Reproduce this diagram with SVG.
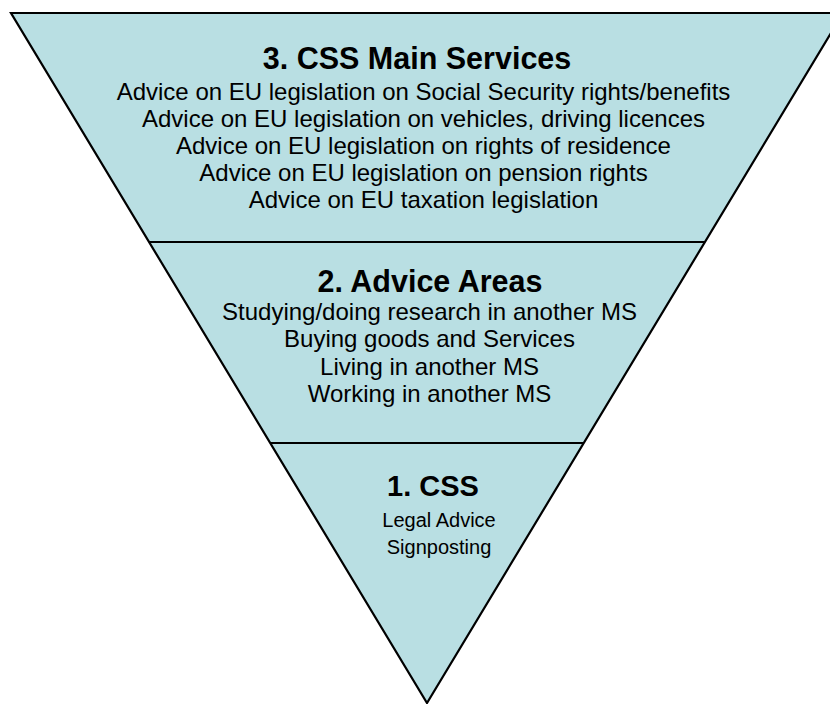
<svg xmlns="http://www.w3.org/2000/svg" width="830" height="704" viewBox="0 0 830 704">
<style>
.shape{fill:#b9dfe3;stroke:#000;stroke-width:2.2}
.div{stroke:#000;stroke-width:2.2;fill:none}
text{font-family:"Liberation Sans",Arial,sans-serif;fill:#000;text-anchor:middle}
.t{font-weight:bold;font-size:30.5px}
.b{font-size:24px}
.t1{font-weight:bold;font-size:29px}
.b1{font-size:20px}
</style>
<rect width="830" height="704" fill="#fff"/>
<g id="pyramid">
<polygon class="shape" points="11,13 843,13 427,703"/>
</g>
<g id="connectors">
<line class="div" x1="149" y1="242" x2="705" y2="242"/>
<line class="div" x1="270" y1="443" x2="584" y2="443"/>
</g>
<g id="level3">
<text class="t" x="417" y="69">3. CSS Main Services</text>
<text class="b" x="423.5" y="99.5">Advice on EU legislation on Social Security rights/benefits</text>
<text class="b" x="423.5" y="126.5">Advice on EU legislation on vehicles, driving licences</text>
<text class="b" x="423.5" y="153.5">Advice on EU legislation on rights of residence</text>
<text class="b" x="423.5" y="180.5">Advice on EU legislation on pension rights</text>
<text class="b" x="423.5" y="207.5">Advice on EU taxation legislation</text>
</g>
<g id="level2">
<text class="t" x="430" y="292">2. Advice Areas</text>
<text class="b" x="429.5" y="320">Studying/doing research in another MS</text>
<text class="b" x="429.5" y="347">Buying goods and Services</text>
<text class="b" x="429.5" y="374.5">Living in another MS</text>
<text class="b" x="429.5" y="401.5">Working in another MS</text>
</g>
<g id="level1">
<text class="t1" x="433" y="496">1. CSS</text>
<text class="b1" x="439" y="527">Legal Advice</text>
<text class="b1" x="439" y="554">Signposting</text>
</g>
</svg>
